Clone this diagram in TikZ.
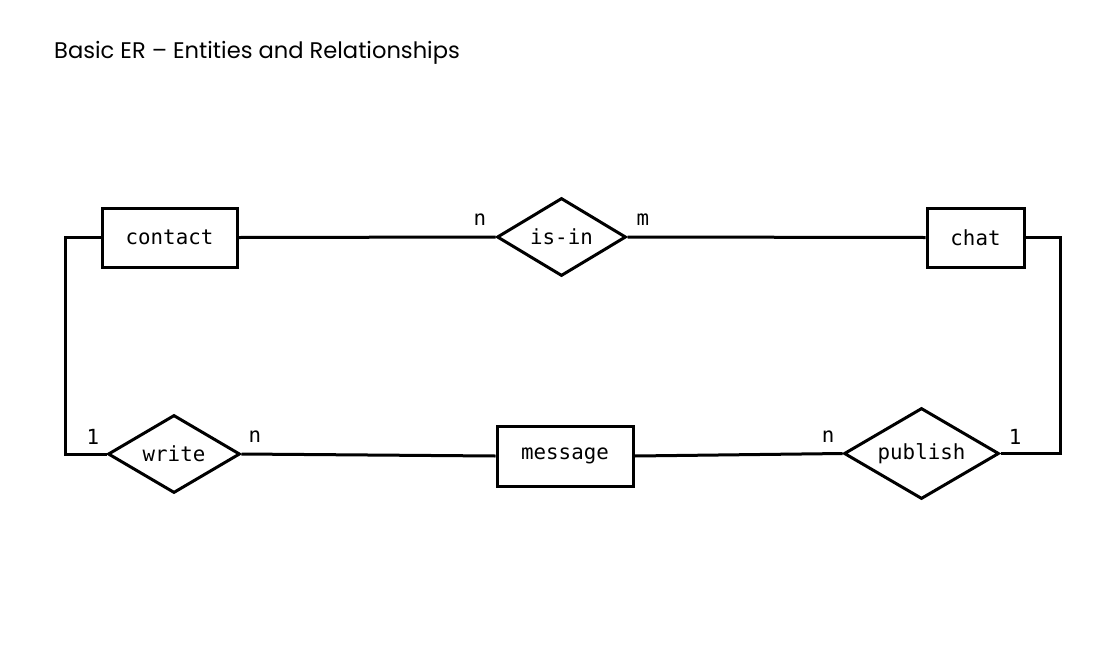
\documentclass[tikz,border=0pt]{standalone}
\usepackage{fontspec}
\setmainfont{Poppins}
\setmonofont{DejaVu Sans Mono}
\usepackage{tikz}
\usetikzlibrary{ shapes.geometric }
\usetikzlibrary{calc}

\begin{document}
\begin{tikzpicture} [
    x=1pt, y=-1pt,
    every node/.style = {font=\ttfamily\fontsize{20.8}{24}\selectfont},
    entity/.style = {rectangle, draw, line width=3pt, minimum height=59pt, inner sep=0pt},
    relation/.style = {diamond, aspect=1.66, draw, line width=3pt, inner sep=0pt},
    link/.style = {line width=3pt},
    card/.style = {inner sep=0pt}
]
    \useasboundingbox (0,0) rectangle (1107,653);
    \node [anchor=base west, inner sep=0pt, font=\fontsize{22.6}{26}\selectfont] (title) at (54,58) {Basic ER -- Entities and Relationships};

    % entities
    \node [entity, minimum width=135pt] (contact) at (169.5,237.5) {contact};
    \node [entity, minimum width=97pt] (chat) at (975.5,237.5) {chat};
    \node [entity, minimum width=136pt, minimum height=60pt] (message) at (565,456) {message};

    % relationships
    \node [relation, minimum width=129pt, minimum height=78pt] (isin) at (561.5,237) {is-in};
    \node [relation, minimum width=132pt, minimum height=78pt] (write) at (174,454) {write};
    \node [relation, minimum width=155pt, minimum height=91pt] (publish) at (921.5,453.5) {publish};

    % connectors
    \draw [link] (contact.east) -- (isin.west);
    \draw [link] (isin.east) -- (chat.west);
    \draw [link] (contact.west) -- ++(-35,0) |- (write.west);
    \draw [link] (write.east) -- (message.west);
    \draw [link] (message.east) -- (publish.west);
    \draw [link] (chat.east) -- ++(35,0) |- (publish.east);

    % cardinalities
    \node [card] (c1) at (480,220) {n};
    \node [card] (c2) at (643,220) {m};
    \node [card] (c3) at (93,437) {1};
    \node [card] (c4) at (255,437) {n};
    \node [card] (c5) at (828,437) {n};
    \node [card] (c6) at (1015,437) {1};
\end{tikzpicture}
\end{document}
